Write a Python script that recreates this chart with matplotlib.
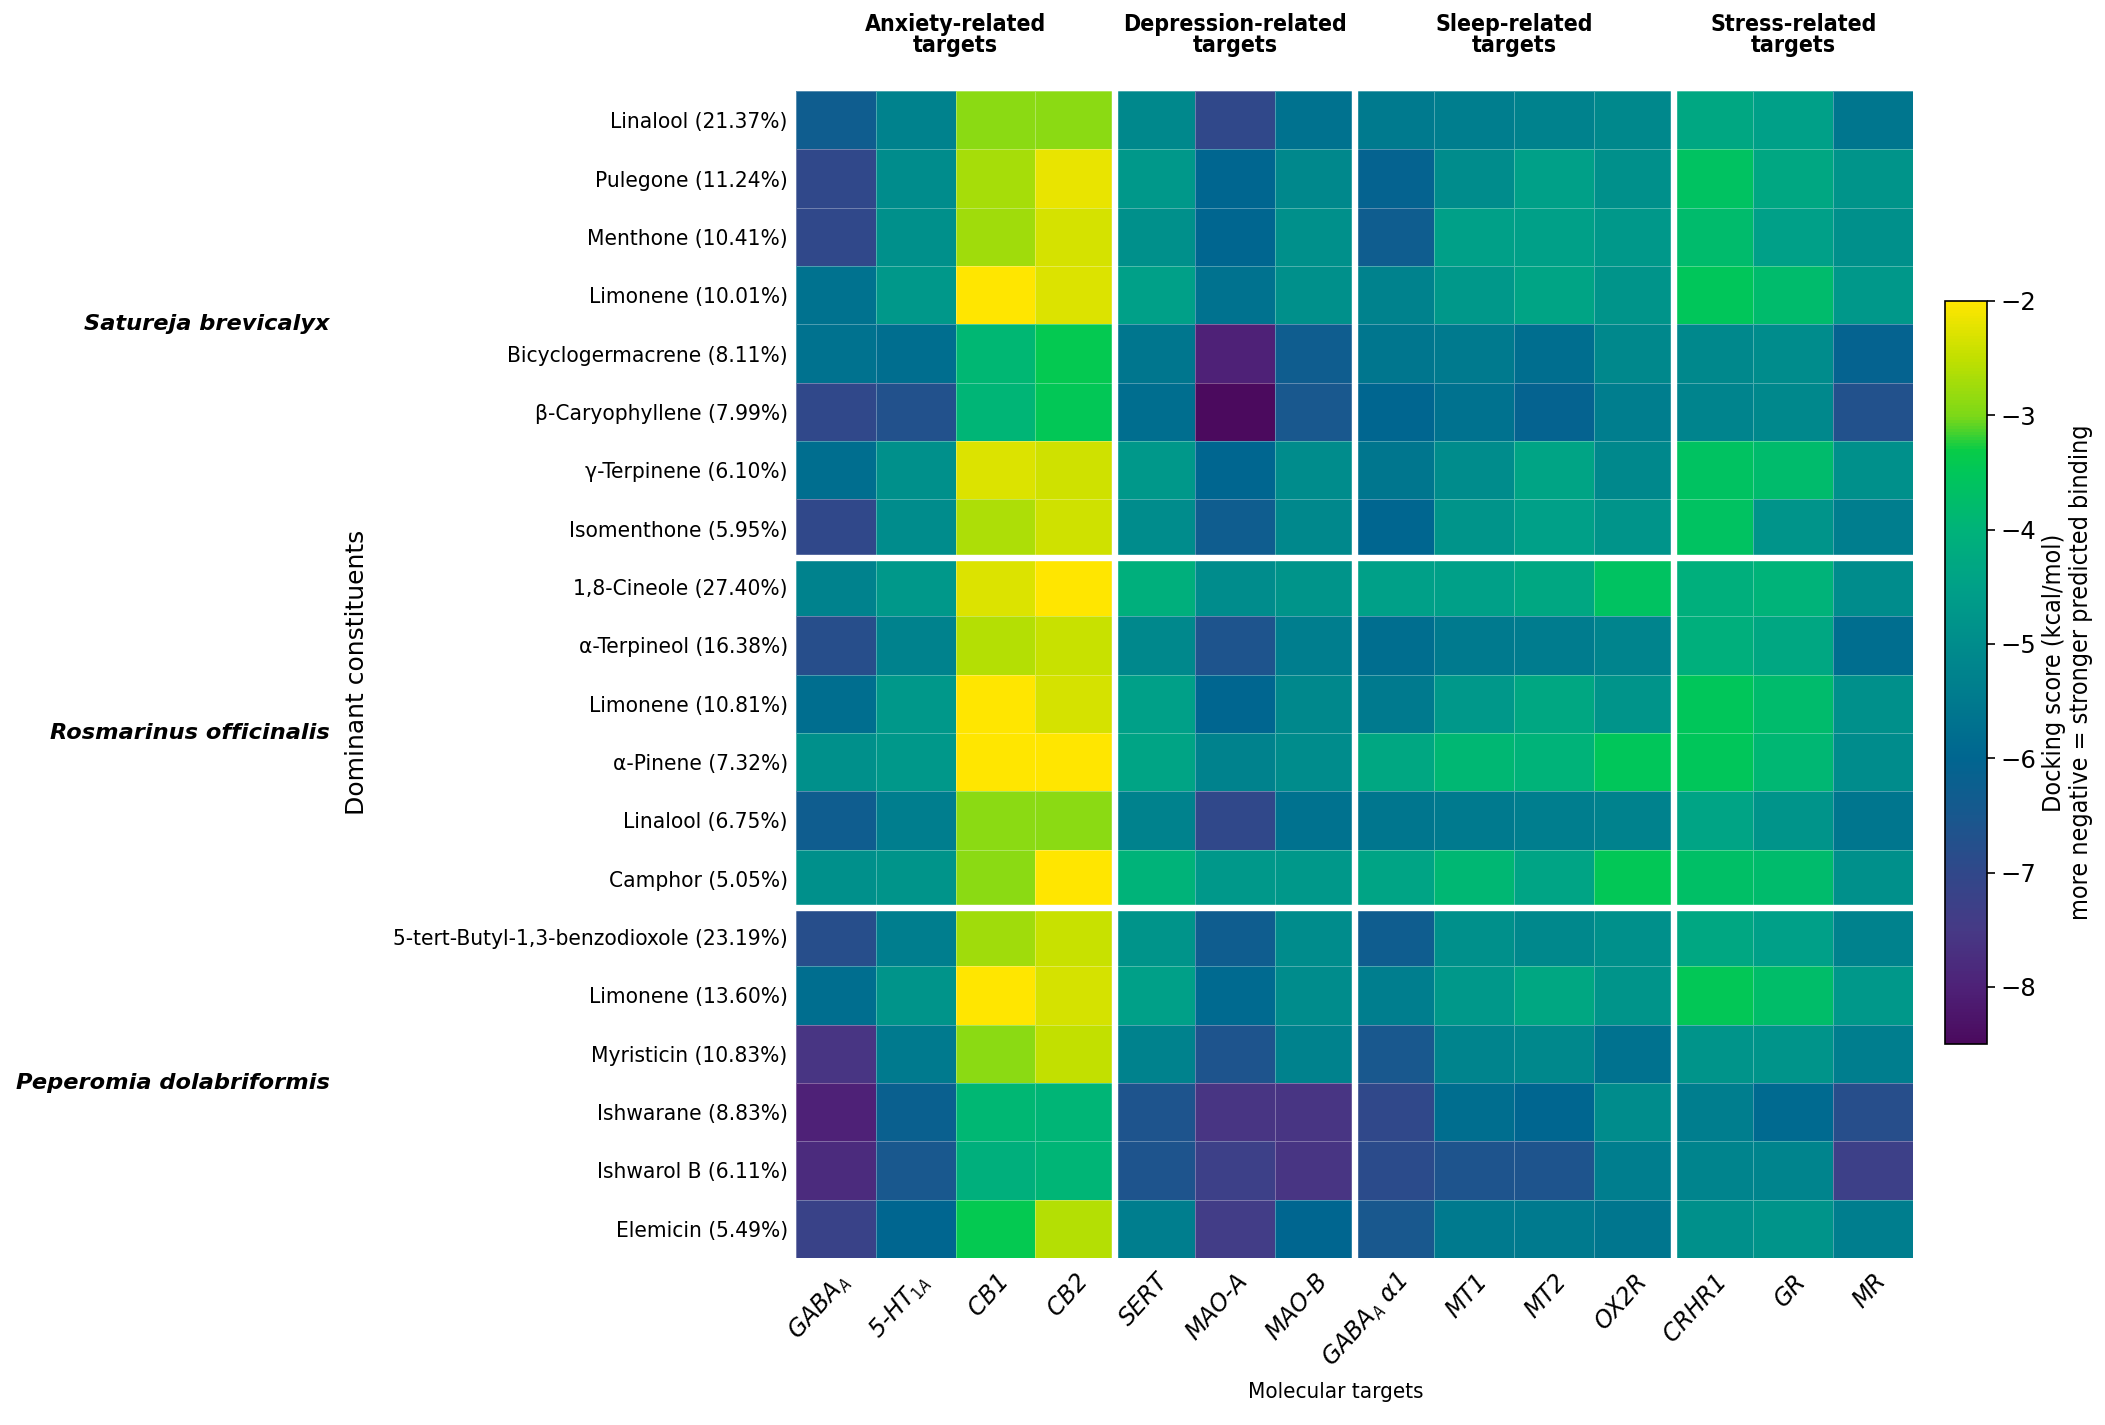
import numpy as np
import matplotlib
matplotlib.use("Agg")
import matplotlib.pyplot as plt
from matplotlib.colors import LinearSegmentedColormap, Normalize
import matplotlib.transforms as mtrans

plt.rcParams['font.family'] = ['DejaVu Sans']
plt.rcParams['font.stretch'] = 'condensed'
plt.rcParams['mathtext.default'] = 'it'

# ---------------- data ----------------
constituents = [
    "Linalool (21.37%)", "Pulegone (11.24%)", "Menthone (10.41%)", "Limonene (10.01%)",
    "Bicyclogermacrene (8.11%)", "β-Caryophyllene (7.99%)", "γ-Terpinene (6.10%)",
    "Isomenthone (5.95%)",
    "1,8-Cineole (27.40%)", "α-Terpineol (16.38%)", "Limonene (10.81%)", "α-Pinene (7.32%)",
    "Linalool (6.75%)", "Camphor (5.05%)",
    "5-tert-Butyl-1,3-benzodioxole (23.19%)", "Limonene (13.60%)", "Myristicin (10.83%)",
    "Ishwarane (8.83%)", "Ishwarol B (6.11%)", "Elemicin (5.49%)",
]
species = ["Satureja brevicalyx", "Rosmarinus officinalis", "Peperomia dolabriformis"]
species_counts = [8, 6, 6]

targets = ["GABA$_A$", "5-HT$_{1A}$", "CB1", "CB2", "SERT", "MAO-A", "MAO-B",
           "GABA$_A$ α1", "MT1", "MT2", "OX2R", "CRHR1", "GR", "MR"]
target_groups = ["Anxiety-related\ntargets", "Depression-related\ntargets",
                 "Sleep-related\ntargets", "Stress-related\ntargets"]
group_sizes = [4, 3, 4, 3]

scores = np.array([
    # GABAA 5HT1A  CB1   CB2   SERT  MAOA  MAOB  GABAa1 MT1   MT2   OX2R  CRHR1 GR    MR
    [-6.3, -5.3, -2.9, -2.9, -5.1, -7.0, -5.7, -5.5, -5.4, -5.3, -5.1, -4.3, -4.5, -5.6],
    [-7.0, -5.0, -2.7, -2.2, -4.7, -6.0, -5.1, -6.1, -5.0, -4.5, -4.9, -3.6, -4.3, -4.8],
    [-7.0, -4.9, -2.75, -2.35, -4.9, -6.0, -4.9, -6.3, -4.5, -4.5, -4.7, -3.8, -4.5, -4.9],
    [-5.7, -4.7, -2.0, -2.3, -4.5, -5.7, -4.9, -5.3, -4.7, -4.4, -4.8, -3.5, -3.8, -4.7],
    [-5.7, -5.8, -3.9, -3.4, -5.6, -8.0, -6.3, -5.6, -5.5, -5.8, -5.1, -5.1, -5.0, -6.1],
    [-7.0, -6.7, -3.95, -3.45, -5.8, -8.5, -6.5, -6.0, -5.7, -6.1, -5.4, -5.2, -5.1, -6.7],
    [-5.8, -4.9, -2.3, -2.4, -4.7, -6.0, -5.0, -5.6, -5.0, -4.4, -5.1, -3.6, -3.8, -4.9],
    [-7.0, -5.0, -2.65, -2.4, -5.0, -6.3, -5.1, -6.0, -4.8, -4.5, -4.8, -3.6, -4.8, -5.4],
    [-5.3, -4.7, -2.3, -2.0, -4.1, -5.0, -4.8, -4.5, -4.5, -4.3, -3.6, -4.1, -4.0, -5.0],
    [-6.8, -5.3, -2.6, -2.45, -5.1, -6.6, -5.4, -5.8, -5.5, -5.45, -5.2, -4.1, -4.3, -5.8],
    [-5.8, -4.7, -2.0, -2.35, -4.5, -6.0, -5.1, -5.5, -4.7, -4.3, -4.8, -3.5, -3.8, -4.9],
    [-4.9, -4.7, -2.0, -2.0, -4.4, -5.3, -5.0, -4.3, -3.9, -4.0, -3.5, -3.5, -3.9, -5.0],
    [-6.3, -5.4, -2.9, -2.9, -5.3, -7.0, -5.7, -5.6, -5.5, -5.4, -5.3, -4.4, -4.8, -5.6],
    [-4.9, -4.8, -2.9, -2.0, -4.0, -4.7, -4.7, -4.4, -3.9, -4.4, -3.45, -3.7, -3.8, -4.9],
    [-6.8, -5.4, -2.75, -2.45, -4.8, -6.3, -5.0, -6.3, -4.9, -5.1, -4.9, -4.3, -4.5, -5.3],
    [-5.8, -4.8, -2.0, -2.35, -4.5, -5.9, -5.0, -5.4, -4.7, -4.3, -4.8, -3.45, -3.75, -4.7],
    [-7.6, -5.5, -2.9, -2.5, -5.3, -6.6, -5.3, -6.5, -5.2, -5.1, -5.7, -4.8, -4.8, -5.4],
    [-8.0, -6.2, -3.9, -3.95, -6.6, -7.6, -7.6, -7.0, -5.8, -6.0, -5.0, -5.4, -5.9, -6.8],
    [-7.8, -6.5, -4.1, -3.95, -6.6, -7.3, -7.6, -6.9, -6.6, -6.6, -5.4, -5.2, -5.2, -7.3],
    [-7.2, -6.0, -3.4, -2.6, -5.4, -7.4, -6.0, -6.5, -5.5, -5.5, -5.6, -4.9, -4.8, -5.4],
])

vmin, vmax = -8.5, -2.0
cbar_ticks = [-2, -3, -4, -5, -6, -7, -8]

# colormap matching the reference colour bar (viridis-like, saturated)
cmap_colors = [
    (0.000, "#4b0a5e"), (0.077, "#4e2278"), (0.154, "#463a86"), (0.231, "#30488a"),
    (0.308, "#18588e"), (0.385, "#006690"), (0.462, "#007a8e"), (0.538, "#008c8c"),
    (0.615, "#00a088"), (0.692, "#00b27a"), (0.769, "#00c65a"), (0.800, "#08cc48"),
    (0.846, "#7cd818"), (0.923, "#c0e000"), (1.000, "#ffe600"),
]
cmap = LinearSegmentedColormap.from_list("dock", cmap_colors)

# ---------------- figure ----------------
W, H = 2105, 1425
fig = plt.figure(figsize=(W / 100, H / 100), dpi=100)
ax = fig.add_axes([796 / W, 1 - 1258 / H, (1913 - 796) / W, (1258 - 91) / H])

nrows, ncols = scores.shape
norm = Normalize(vmin=vmin, vmax=vmax)
ax.pcolormesh(np.arange(ncols + 1), np.arange(nrows + 1), scores, cmap=cmap, norm=norm,
              edgecolors=(1, 1, 1, 0.3), linewidth=0.7)
ax.set_xlim(0, ncols)
ax.set_ylim(nrows, 0)

# group separators
for b in np.cumsum(group_sizes)[:-1]:
    ax.axvline(b, color="white", lw=4.6)
for b in np.cumsum(species_counts)[:-1]:
    ax.axhline(b, color="white", lw=4.6)

for s in ax.spines.values():
    s.set_visible(False)

ax.set_yticks(np.arange(nrows) + 0.5)
ax.set_yticklabels(constituents, fontsize=16.2)
ax.tick_params(axis="y", length=0, pad=6)
ax.set_xticks(np.arange(ncols) + 0.5)
ax.set_xticklabels(targets, rotation=48, ha="right", rotation_mode="anchor",
                   fontsize=17, fontstyle="italic", fontstretch="normal")
ax.tick_params(axis="x", length=0, pad=8)

fig.text(1336 / W, 1 - 1392 / H, "Molecular targets", ha="center", va="center",
         fontsize=16)
fig.text(357 / W, 1 - 672 / H, "Dominant constituents", ha="center", va="center",
         rotation=90, fontsize=18, fontstretch="normal")

# species labels
tr_sp = mtrans.blended_transform_factory(fig.transFigure, ax.transData)
start = 0
for name, cnt in zip(species, species_counts):
    ax.text(330 / W, start + cnt / 2, name, transform=tr_sp, ha="right", va="center",
            fontsize=16.2, fontweight="bold", fontstyle="italic", fontstretch="normal")
    start += cnt

# group headers
tr_hd = mtrans.blended_transform_factory(ax.transData, fig.transFigure)
start = 0
for name, cnt in zip(target_groups, group_sizes):
    ax.text(start + cnt / 2, 1 - 35 / H, name, transform=tr_hd, ha="center", va="center",
            fontsize=16.6, fontweight="bold", linespacing=0.9)
    start += cnt

# colour bar
cax = fig.add_axes([1945 / W, 1 - 1044 / H, 42 / W, (1044 - 301) / H])
sm = plt.cm.ScalarMappable(norm=norm, cmap=cmap)
cb = fig.colorbar(sm, cax=cax, ticks=cbar_ticks)
cb.ax.tick_params(labelsize=17.5, length=6, width=1.2)
for t in cb.ax.get_yticklabels():
    t.set_fontstretch("normal")
cb.outline.set_linewidth(1.2)
cb.set_label("Docking score (kcal/mol)\nmore negative = stronger predicted binding",
             fontsize=18, labelpad=4)

fig.savefig("out.png", dpi=100, facecolor="white")
